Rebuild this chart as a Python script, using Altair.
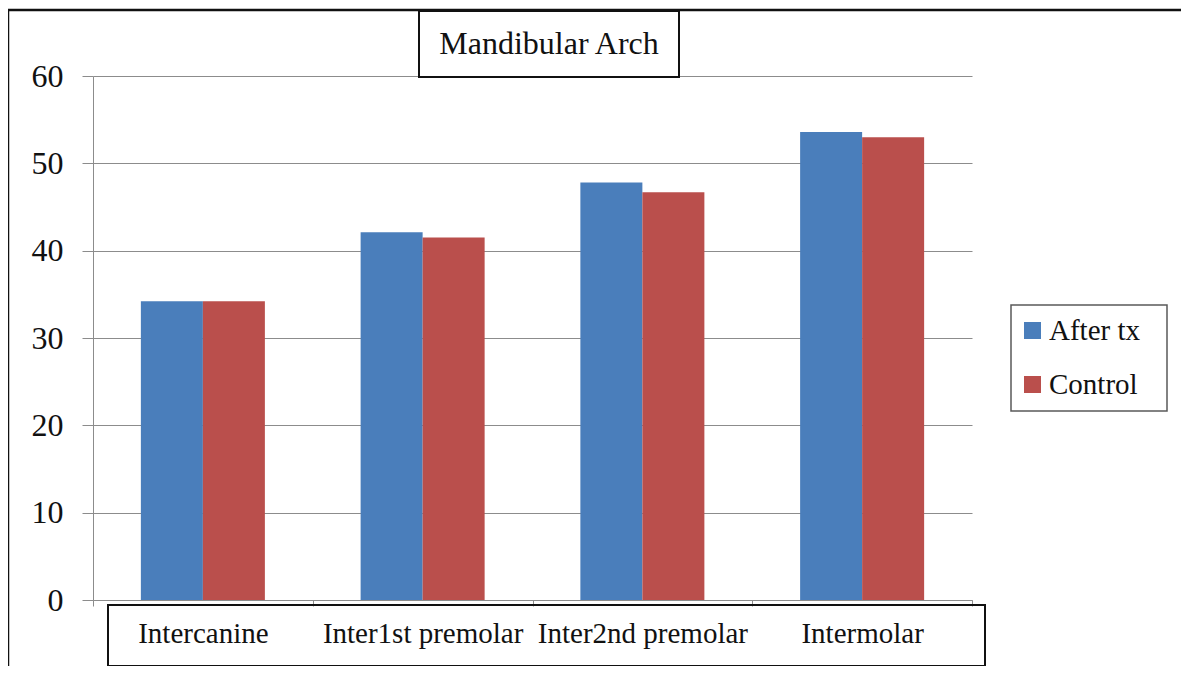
import altair as alt
import pandas as pd

categories = ["Intercanine", "Inter1st premolar", "Inter2nd premolar", "Intermolar"]
series_names = ["After tx", "Control"]
after_tx = [34.2, 42.1, 47.8, 53.6]
control = [34.2, 41.5, 46.7, 53.0]
y_ticks = [0, 10, 20, 30, 40, 50, 60]
title_text = "Mandibular Arch"

colors = ["#4A7EBB", "#BA4F4C"]
FONT = "Liberation Serif"

rows = []
for c, a, b in zip(categories, after_tx, control):
    rows.append({"category": c, "series": series_names[0], "value": a})
    rows.append({"category": c, "series": series_names[1], "value": b})
df = pd.DataFrame(rows)

W, H = 879, 524

bars = alt.Chart(df).mark_bar().encode(
    x=alt.X("category:N", sort=categories,
            scale=alt.Scale(paddingInner=0, paddingOuter=0),
            axis=alt.Axis(title=None, labelAngle=0, tickBand="extent", labelLimit=0,
                          tickSize=6, labelPadding=13, labelFontSize=29,
                          labelFont=FONT, labelColor="#111111",
                          domainColor="#8c8c8c", tickColor="#8c8c8c")),
    xOffset=alt.XOffset("series:N", sort=series_names,
                        scale=alt.Scale(paddingInner=0, paddingOuter=0.772)),
    y=alt.Y("value:Q", scale=alt.Scale(domain=[0, 60], nice=False),
            axis=alt.Axis(title=None, values=y_ticks, tickSize=11, labelPadding=19,
                          labelFontSize=32, labelFont=FONT, labelColor="#111111",
                          domainColor="#8c8c8c", tickColor="#8c8c8c",
                          grid=True, gridColor="#8c8c8c", gridWidth=1)),
    color=alt.Color("series:N", sort=series_names,
                    scale=alt.Scale(domain=series_names, range=colors),
                    legend=alt.Legend(title=None, orient="none", legendX=925, legendY=240,
                                      symbolType="square", symbolSize=289,
                                      symbolStrokeWidth=0, labelFont=FONT,
                                      labelFontSize=29, labelColor="#111111",
                                      labelOffset=2, rowPadding=24, padding=0)),
)

one = pd.DataFrame({"k": [0]})

title_box = alt.Chart(one).mark_rect(fill="white", stroke="#111111", strokeWidth=2).encode(
    x=alt.value(326), x2=alt.value(586), y=alt.value(-65), y2=alt.value(1))
title_txt = alt.Chart(one).mark_text(font=FONT, fontSize=32, color="#111111",
                                     baseline="middle", align="center").encode(
    x=alt.value(456), y=alt.value(-32), text=alt.value(title_text))
xlab_box = alt.Chart(one).mark_rect(fill="transparent", stroke="#111111", strokeWidth=2).encode(
    x=alt.value(15), x2=alt.value(892), y=alt.value(529), y2=alt.value(590))
legend_box = alt.Chart(one).mark_rect(fill="white", stroke="#595959", strokeWidth=1.5).encode(
    x=alt.value(918), x2=alt.value(1074), y=alt.value(229), y2=alt.value(335))
left_border = alt.Chart(one).mark_rule(color="#111111", strokeWidth=2.5).encode(
    x=alt.value(-85), y=alt.value(-66), y2=alt.value(592))
top_border = alt.Chart(one).mark_rule(color="#111111", strokeWidth=2.5).encode(
    x=alt.value(-85), x2=alt.value(1088), y=alt.value(-66))

chart = alt.layer(legend_box, bars, title_box, title_txt, xlab_box, left_border, top_border).properties(
    width=W, height=H,
    padding={"left": 85, "top": 68, "right": 209, "bottom": 66},
    autosize=alt.AutoSizeParams(type="none"),
    background="white",
).configure_view(stroke=None)

chart.save("out.html", embed_options={"renderer": "svg", "actions": False})
